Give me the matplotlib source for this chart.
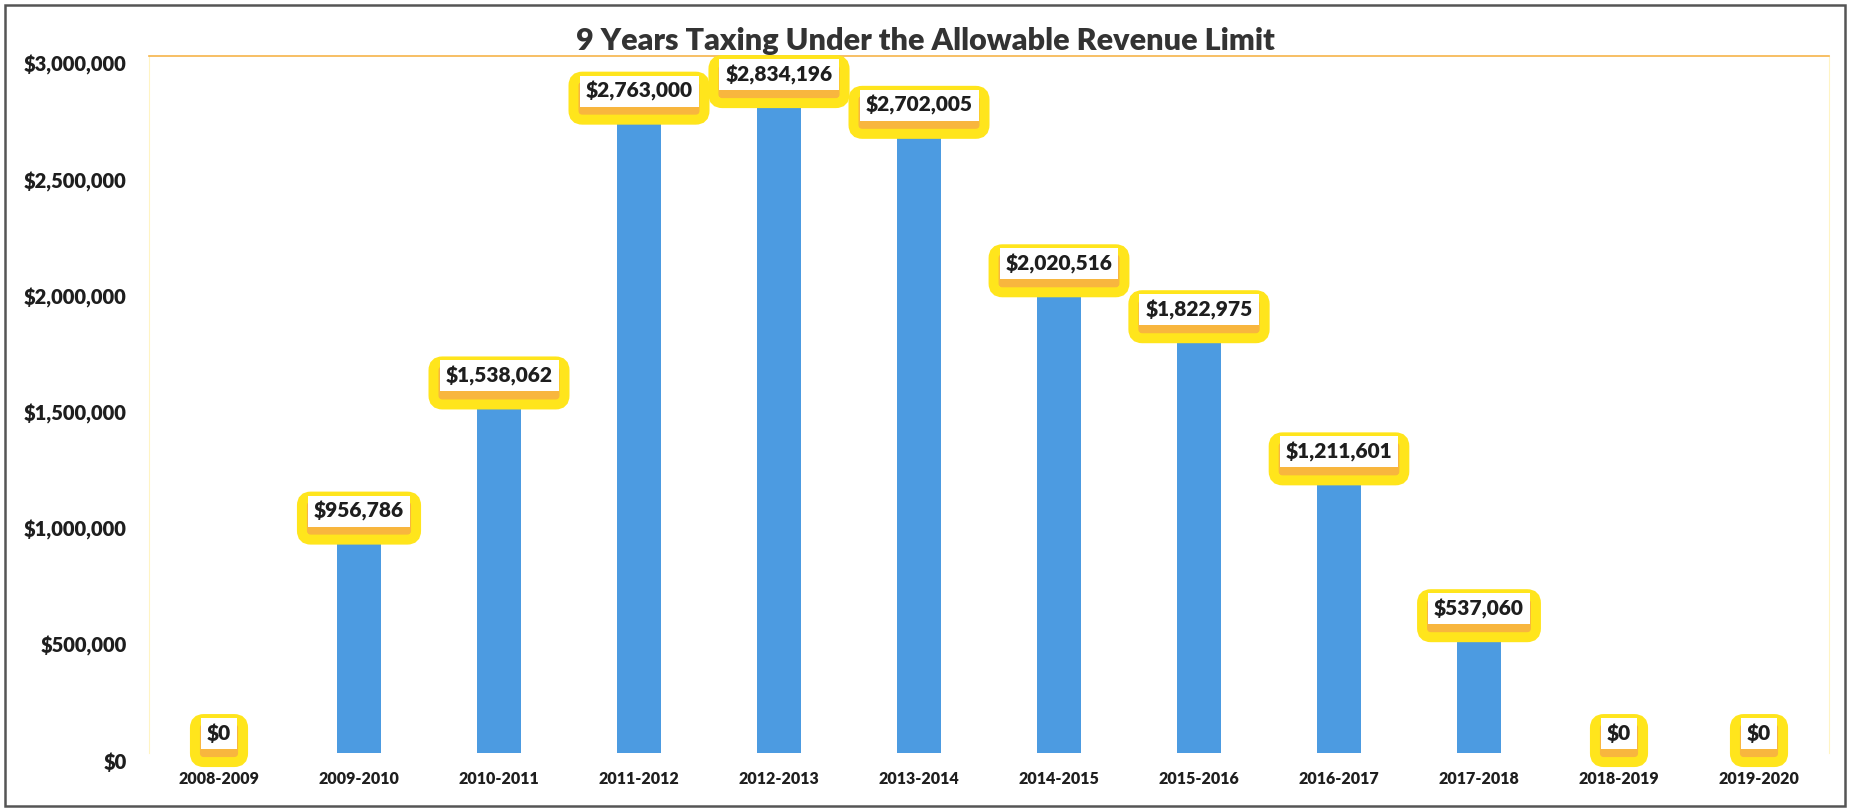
import matplotlib
matplotlib.use("Agg")
import matplotlib.pyplot as plt
import matplotlib.transforms as mtransforms
from matplotlib.patches import Rectangle, FancyBboxPatch
from matplotlib.ticker import FuncFormatter

years = ["2008-2009", "2009-2010", "2010-2011", "2011-2012", "2012-2013", "2013-2014",
         "2014-2015", "2015-2016", "2016-2017", "2017-2018", "2018-2019", "2019-2020"]
amounts = [0, 956786, 1538062, 2763000, 2834196, 2702005,
           2020516, 1822975, 1211601, 537060, 0, 0]
y_ticks = [0, 500000, 1000000, 1500000, 2000000, 2500000, 3000000]

FONT = "Lato"
WEIGHT = "heavy"
BAR_COLOR = "#4C9BE1"
TEXT_COLOR = "#1E1E1E"

fig = plt.figure(figsize=(18.51, 8.11), dpi=100)
ax = fig.add_axes([149 / 1851, 1 - 753 / 811, (1829 - 149) / 1851, (753 - 55.5) / 811])

x = list(range(len(years)))
ax.bar(x, amounts, width=0.31, color=BAR_COLOR, zorder=2)

ax.set_ylim(0, 3000000)
ax.set_xlim(-0.5, 11.5)
ax.set_yticks(y_ticks)
ax.yaxis.set_major_formatter(FuncFormatter(lambda v, p: "${:,.0f}".format(v)))
ax.set_xticks(x)
ax.set_xticklabels(years)
ax.tick_params(axis="y", length=0, pad=16, labelsize=14.5, labelcolor=TEXT_COLOR)
ax.tick_params(axis="x", length=0, pad=13, labelsize=11.5, labelcolor=TEXT_COLOR)
for lab in ax.get_yticklabels() + ax.get_xticklabels():
    lab.set_fontfamily(FONT)
    lab.set_fontweight(WEIGHT)
# scanned labels sit a little below their grid positions
shift = mtransforms.ScaledTranslation(0, -8 / 100, fig.dpi_scale_trans)
for lab in ax.get_yticklabels():
    lab.set_transform(lab.get_transform() + shift)

ax.spines["bottom"].set_visible(False)
ax.spines["left"].set_color("#FFF4C4")
ax.spines["right"].set_color("#FFF4C4")
ax.spines["top"].set_color("#F6B44A")
ax.spines["top"].set_linewidth(1.2)

# data labels, text first so the boxes can be sized from it
labels = []
for xi, v in zip(x, amounts):
    t = ax.annotate("${:,.0f}".format(v), (xi, v), xytext=(0, 14), textcoords="offset points",
                    ha="center", va="center", fontsize=15, fontfamily=FONT,
                    fontweight=WEIGHT, color=TEXT_COLOR, zorder=6)
    labels.append(t)

fig.canvas.draw()
renderer = fig.canvas.get_renderer()
ident = mtransforms.IdentityTransform()
for t in labels:
    bb = t.get_window_extent(renderer)
    cx, cy = (bb.x0 + bb.x1) / 2, (bb.y0 + bb.y1) / 2
    w = bb.width + 12
    h = 31
    wl, wb = cx - w / 2, cy - h / 2
    # yellow glow around an orange band
    glow = FancyBboxPatch((wl - 6, wb - 13), w + 12, h + 12,
                          boxstyle="round,pad=0,rounding_size=9",
                          fc="#F8B63E", ec="#FFE51C", lw=7.2,
                          transform=ident, zorder=4, clip_on=False)
    ax.add_patch(glow)
    white = Rectangle((wl, wb), w, h, fc="white", ec="none",
                      transform=ident, zorder=5, clip_on=False)
    ax.add_patch(white)

fig.text(0.5, 1 - 41 / 811, "9 Years Taxing Under the Allowable Revenue Limit",
         ha="center", va="center", fontsize=22, fontfamily=FONT,
         fontweight=WEIGHT, color="#333333")

fig.patches.append(Rectangle((5 / 1851, 1 - 806 / 811), 1840 / 1851, 801 / 811,
                             transform=fig.transFigure, fill=False,
                             ec="#555555", lw=1.8))

fig.savefig("out.png", dpi=100)
